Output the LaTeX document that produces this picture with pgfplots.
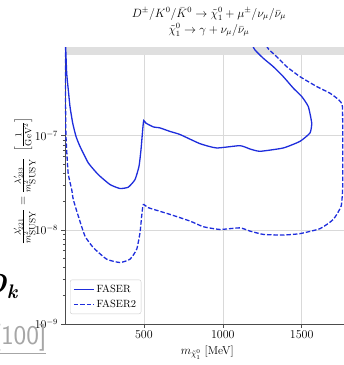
\documentclass[border=0pt]{standalone}
\usepackage{pgfplots}
\pgfplotsset{compat=1.18}
\definecolor{lineblue}{RGB}{30,45,220}
\begin{document}
\begin{tikzpicture}[x=1pt,y=1pt]
\useasboundingbox (-65,-41) rectangle (279,324);
\begin{semilogyaxis}[
  at={(0,0)}, anchor=south west,
  scale only axis, width=279pt, height=277pt,
  xmin=0, xmax=1768, ymin=1e-9, ymax=8.75e-7,
  axis x line*=box, axis y line*=left,
  axis line style={black!70, line width=0.7pt},
  xtick={500,1000,1500}, ytick={1e-9,1e-8,1e-7},
  xtick pos=bottom, ytick pos=left,
  tick align=outside,
  major tick length=3.5pt, minor tick length=2pt,
  every tick/.style={black!70, line width=0.5pt},
  grid=major, major grid style={gray!30, line width=0.6pt},
  /pgf/number format/1000 sep={},
  tick label style={font=\fontsize{11.5}{13}\selectfont},
  xlabel={$m_{\tilde{\chi}^0_1}$ [MeV]},
  xlabel style={font=\fontsize{11.5}{13}\selectfont, at={(axis description cs:0.51,0)}, anchor=north, yshift=-18pt},
  ylabel={$\frac{\lambda'_{221}}{m^2_{\scriptstyle\mathrm{SUSY}}} = \frac{\lambda'_{233}}{m^2_{\scriptstyle\mathrm{SUSY}}}\ \left[\frac{1}{\mathrm{GeV}^2}\right]$},
  every axis y label/.style={at={(axis description cs:-0.145,0.516)}, rotate=90, anchor=center, font=\fontsize{12.5}{15}\selectfont},
  title={$D^{\pm}/K^0/\bar{K}^0 \to \tilde{\chi}^0_1 + \mu^{\pm}/\nu_\mu/\bar{\nu}_\mu$\\[3pt]$\tilde{\chi}^0_1 \to \gamma + \nu_\mu/\bar{\nu}_\mu$},
  title style={align=center, font=\fontsize{12}{13}\selectfont, at={(axis description cs:0.516,1)}, anchor=south, yshift=1pt},
  legend style={at={(axis description cs:0.018,0.036)}, anchor=south west, rounded corners=2pt, draw=gray!40, font=\fontsize{10.5}{12}\selectfont, row sep=2pt, inner sep=3pt},
  legend cell align=left,
  legend image code/.code={\draw[#1] (0pt,0pt) -- (20pt,0pt);},
]
\addplot[fill=gray!25, draw=none, forget plot] coordinates {(0,7.2e-7) (1800,7.2e-7) (1800,9e-7) (0,9e-7)} -- cycle;
% FASER
\addplot[lineblue, line width=1.3pt, smooth, tension=0.3] coordinates {
(4,9e-7) (10.8,4.6e-7) (20.9,3.07e-7) (31.7,2.04e-7) (48.8,1.36e-7) (69.7,9.84e-8)
(95,7.7e-8) (147.7,5.14e-8) (211,3.86e-8) (285,3.03e-8) (348.5,2.75e-8) (401,2.84e-8)
(443.6,3.42e-8) (469,4.73e-8) (481.6,7.11e-8) (492.4,1.16e-7) (498.7,1.45e-7)
(513,1.36e-7) (559.6,1.24e-7) (602,1.21e-7) (665.4,1.11e-7) (728.8,1.03e-7)
(855.5,8.23e-8) (961,7.41e-8) (1108.4,7.84e-8) (1172,7.23e-8) (1235.7,6.83e-8)
(1383.4,7.41e-8) (1489,8.71e-8) (1552.6,1.07e-7) (1563.4,1.36e-7) (1541.8,2.04e-7)
(1500,2.61e-7) (1446.8,3.2e-7) (1383.4,4.24e-7) (1320,5.41e-7) (1256.7,6.64e-7)
(1204,8.13e-7) (1189.5,9e-7)};
\addlegendentry{FASER}
% FASER2
\addplot[lineblue, line width=1.3pt, dash pattern=on 4.5pt off 2pt, smooth, tension=0.3] coordinates {
(1,9e-7) (3,3e-7) (5,1.2e-7) (8,8.5e-8) (20,4e-8) (42.5,2.68e-8) (52.6,2.1e-8)
(84.3,1.4e-8) (126.7,8.59e-9) (179.3,6.48e-9) (264.3,4.88e-9) (348.5,4.5e-9)
(412,4.88e-9) (454.4,6.22e-9) (475.3,9.33e-9) (486,1.4e-8) (496.2,1.86e-8)
(528,1.72e-8) (665.4,1.46e-8) (792,1.24e-8) (876.4,1.08e-8) (982.3,1.01e-8)
(1109,1.05e-8) (1172,9.71e-9) (1256.7,8.95e-9) (1383.4,8.81e-9) (1489,9.12e-9)
(1616,1.03e-8) (1700,1.29e-8) (1750,1.79e-8) (1760,2.9e-8) (1760,7.11e-8)
(1758,2.04e-7) (1735,2.4e-7) (1679,2.83e-7) (1595,3.33e-7) (1489,4.24e-7)
(1405,5.41e-7) (1341.6,6.9e-7) (1290,8.3e-7) (1278,9e-7)};
\addlegendentry{FASER2}
\end{semilogyaxis}
\node[anchor=east, font=\fontsize{28}{30}\selectfont] at (-43,38) {\textbf{\textit{D}}\textsubscript{\textbf{\textit{k}}}};
\node[anchor=east, font=\sffamily\fontsize{27}{29}\selectfont, text=gray!70] at (-15,-15) {\underline{[100]}};
\end{tikzpicture}
\end{document}
